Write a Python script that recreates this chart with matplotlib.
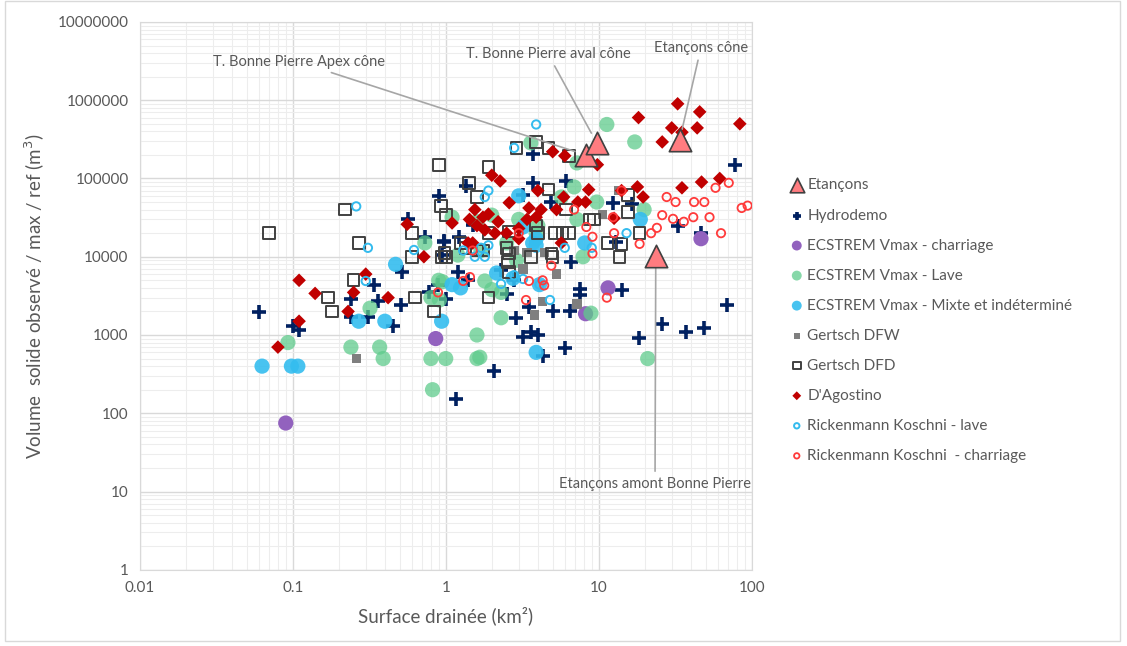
import matplotlib.pyplot as plt
from matplotlib.ticker import FixedLocator, FuncFormatter, LogLocator, NullFormatter

plt.rcParams['font.family'] = ['Lato', 'DejaVu Sans']

# Etançons (triangles)
etancons_x = [8.2, 9.7, 33.8, 23.6]
etancons_y = [200000, 285000, 310000, 10200]

hydro_x = [0.06, 0.1, 0.11, 0.24, 0.24, 0.31, 0.34, 0.36, 0.45, 0.51, 0.52, 0.57, 0.73, 0.78,
           0.89, 0.9, 0.97, 0.98, 0.95, 1.0, 1.17, 1.2, 1.22, 1.35, 1.4, 1.5, 2.07, 2.3, 2.5,
           2.8, 2.9, 3.2, 3.2, 3.5, 3.6, 3.7, 3.7, 4.0, 4.3, 4.9, 5.0, 6.0, 6.1, 6.5, 6.6, 7.5,
           7.6, 12.4, 13.0, 14.2, 16.5, 18.2, 26, 33, 37, 46.6, 49, 68.7, 77.5]
hydro_y = [1950, 1300, 1150, 2900, 1700, 1700, 4400, 2700, 1300, 2400, 6400, 30000, 18000, 3500,
           4400, 60000, 15500, 16000, 10500, 2900, 150, 6400, 18000, 80000, 5000, 25500, 350, 6800, 3300,
           5000, 1660, 62000, 950, 2300, 1100, 206000, 88000, 1000, 540, 50000, 2000, 690, 93000, 2000, 8500, 3200,
           3900, 49000, 15500, 3800, 47000, 920, 1400, 25000, 1100, 20000, 1240, 2430, 150000]

charriage_x = [0.09, 0.86, 8.2, 11.5, 46.6]
charriage_y = [75, 900, 1870, 4000, 17000]

lave_x = [0.093, 0.24, 0.32, 0.37, 0.39, 0.73, 0.8, 0.82, 0.8, 0.9, 0.91, 0.95, 1.0, 1.1, 1.2,
          1.6, 1.67, 1.6, 1.6, 1.7, 1.8, 2.0, 2.0, 2.3, 2.3, 2.5, 2.9, 3.0, 3.6, 3.9, 4.0, 5.7,
          6.9, 7.2, 7.2, 7.9, 8.9, 9.7, 11.3, 17.2, 19.8, 20.9]
lave_y = [800, 700, 2200, 700, 500, 15000, 500, 200, 3000, 5000, 2800, 4800, 500, 32000, 10500,
          1000, 520, 500, 28000, 12000, 4900, 3800, 34000, 1660, 3500, 15000, 9000, 30000, 285000, 20000, 25000, 58000,
          78000, 158000, 30000, 10000, 1900, 50000, 490000, 293000, 40000, 500]

mixte_x = [0.063, 0.098, 0.108, 0.27, 0.4, 0.47, 0.94, 1.1, 1.25, 2.15, 2.75, 3.0, 3.2, 3.7,
           3.9, 3.9, 3.9, 4.1, 8.1, 18.7]
mixte_y = [400, 400, 400, 1500, 1500, 8000, 1500, 4400, 4000, 6200, 5300, 60000, 24000, 15000,
           17000, 14000, 600, 4400, 15000, 30000]

dfw_x = [0.26, 2.8, 3.2, 3.4, 3.8, 4.3, 4.4, 5.3, 7.2, 10.6, 13.5]
dfw_y = [500, 12000, 7000, 11300, 1800, 2700, 11300, 6000, 2500, 35000, 70000]

dfd_x = [0.07, 0.17, 0.18, 0.22, 0.25, 0.27, 0.6, 0.6, 0.63, 0.84, 0.9, 0.93, 1.0, 0.98, 0.94,
         1.0, 1.25, 1.35, 1.42, 1.6, 1.6, 1.75, 1.9, 1.9, 1.9, 2.5, 2.6, 2.55, 2.6, 2.6, 2.9,
         3.6, 3.9, 4.0, 3.9, 4.7, 4.7, 4.9, 5.0, 5.2, 5.8, 6.1, 6.4, 6.4, 8.7, 9.3, 11.4, 13.7,
         14.1, 15.5, 15.5, 18.5]
dfd_y = [20000, 3000, 2000, 40000, 5000, 15000, 20000, 10000, 3000, 2000, 150000, 44700, 34000, 11200, 10000,
         10000, 15000, 13000, 88000, 58000, 12000, 12000, 140000, 20000, 3000, 13000, 11000, 8500, 6400, 21000, 246000,
         10000, 293000, 20000, 25000, 246000, 72000, 11000, 10000, 20000, 20000, 40000, 195000, 20000, 30000, 30000, 15000, 10000,
         14600, 61000, 37000, 20000]

dago_x = [0.08, 0.11, 0.11, 0.14, 0.23, 0.25, 0.3, 0.42, 0.56, 0.72, 1.1, 1.4, 1.5, 1.43, 1.55,
          1.75, 1.6, 1.8, 1.9, 2.0, 2.27, 2.1, 2.2, 2.5, 2.6, 3.0, 3.0, 3.4, 3.5, 3.9, 4.0, 4.2,
          5.0, 5.3, 5.7, 5.9, 6.0, 7.3, 8.2, 8.6, 9.8, 12.6, 14.1, 17.9, 18.2, 19.5, 26, 30,
          32.8, 35, 35, 44, 45.7, 47, 61.8, 83.6]
dago_y = [700, 1500, 5000, 3400, 2000, 3500, 6000, 3000, 26000, 10000, 27000, 15000, 15000, 30000, 40000,
          32000, 25000, 22000, 35000, 110000, 93000, 20000, 28000, 20000, 49000, 17000, 23000, 30000, 42000, 32000, 70000, 40000,
          220000, 40000, 15000, 58000, 195000, 50000, 50000, 72000, 150000, 31000, 70000, 78000, 600000, 58000, 293000, 443000,
          900000, 390000, 76000, 443000, 710000, 90000, 100000, 500000]

rkl_x = [0.26, 0.31, 0.3, 0.62, 1.3, 1.55, 1.7, 1.8, 1.8, 1.9, 1.9, 2.3, 2.8, 2.8, 3.2, 3.9,
         4.1, 4.8, 6.0, 9.0, 15.2]
rkl_y = [44000, 13000, 4900, 12200, 12000, 10000, 13000, 10000, 58000, 70000, 14000, 4500, 246000, 5800, 5200, 490000,
         4400, 2800, 13000, 13000, 20000]

rkc_x = [0.89, 1.3, 1.44, 1.5, 3.0, 3.35, 3.5, 4.3, 4.4, 4.9, 6.9, 8.3, 9.1, 9.1, 11.3, 12.4,
         12.6, 14.1, 18.5, 22, 24, 26, 27.8, 30.6, 31.8, 36, 41.5, 42, 49, 53, 58, 63, 70.8, 86, 94]
rkc_y = [3500, 4900, 5500, 12000, 20000, 2800, 4900, 5000, 4300, 7700, 40000, 24000, 18000, 11000, 3000, 32000,
         20000, 70000, 14600, 20000, 23400, 34000, 58000, 30500, 50000, 28000, 32000, 50000, 50000, 32000, 76000, 20000, 88000, 42000, 45000]

txt = '#595959'
fig = plt.figure(figsize=(11.27, 6.46), dpi=100)
ax = fig.add_axes([0.124, 0.118, 0.543, 0.848])
ax.set_xscale('log')
ax.set_yscale('log')
ax.set_xlim(0.01, 100)
ax.set_ylim(1, 1e7)

ax.scatter(hydro_x, hydro_y, marker='+', s=95, linewidths=2.6, color='#002060', label='Hydrodemo', zorder=3)
ax.scatter(charriage_x, charriage_y, marker='o', s=120, color='#9262BE', edgecolors='none',
           label='ECSTREM Vmax - charriage', zorder=3)
ax.scatter(lave_x, lave_y, marker='o', s=120, color='#5FCB8C', alpha=0.75, edgecolors='none',
           label='ECSTREM Vmax - Lave', zorder=3)
ax.scatter(mixte_x, mixte_y, marker='o', s=120, color='#34BDEF', alpha=0.9, edgecolors='none',
           label='ECSTREM Vmax - Mixte et indéterminé', zorder=3)
ax.scatter(dfw_x, dfw_y, marker='s', s=45, color='#7F7F7F', edgecolors='none', label='Gertsch DFW', zorder=3)
ax.scatter(dfd_x, dfd_y, marker='s', s=70, facecolors='none', edgecolors='#404040', linewidths=1.4,
           label='Gertsch DFD', zorder=3)
ax.scatter(dago_x, dago_y, marker='D', s=48, color='#C00000', edgecolors='none', label="D'Agostino", zorder=3)
ax.scatter(rkl_x, rkl_y, marker='o', s=36, facecolors='none', edgecolors='#33BBEE', linewidths=1.4,
           label='Rickenmann Koschni - lave', zorder=3)
ax.scatter(rkc_x, rkc_y, marker='o', s=36, facecolors='none', edgecolors='#FF3B3B', linewidths=1.3,
           label='Rickenmann Koschni  - charriage', zorder=3)
ax.scatter(etancons_x, etancons_y, marker='^', s=260, color='#FF7C80', edgecolors='#404040', linewidths=1.2,
           label='Etançons', zorder=4)

# grid
ax.grid(True, which='major', color='#D9D9D9', linewidth=1.0, zorder=0)
ax.grid(True, which='minor', color='#EDEDED', linewidth=0.8, zorder=0)
ax.set_axisbelow(True)
ax.xaxis.set_minor_locator(LogLocator(base=10, subs=range(2, 10), numticks=20))
ax.yaxis.set_minor_locator(LogLocator(base=10, subs=range(2, 10), numticks=20))
ax.xaxis.set_minor_formatter(NullFormatter())
ax.yaxis.set_minor_formatter(NullFormatter())
ax.xaxis.set_major_locator(FixedLocator([0.01, 0.1, 1, 10, 100]))
ax.yaxis.set_major_locator(FixedLocator([1, 10, 100, 1000, 1e4, 1e5, 1e6, 1e7]))
ax.xaxis.set_major_formatter(FuncFormatter(lambda v, p: f'{v:g}' if v < 1 else f'{v:.0f}'))
ax.yaxis.set_major_formatter(FuncFormatter(lambda v, p: f'{v:.0f}'))
ax.tick_params(which='both', length=0, colors=txt, labelsize=11, pad=8)
for s in ax.spines.values():
    s.set_color('#D9D9D9')

ax.set_xlabel('Surface drainée (km²)', fontsize=13.5, color=txt, labelpad=8)
ax.set_ylabel('Volume  solide observé / max / ref (m$^3$)', fontsize=13.5, color=txt, labelpad=8)

# annotations
arrow = dict(arrowstyle='-', color='#A6A6A6', lw=1.2, shrinkA=2, shrinkB=8)
ax.annotate('T. Bonne Pierre Apex cône', xy=(etancons_x[0], etancons_y[0]), xytext=(0.40, 0.927),
            textcoords='axes fraction', ha='right', va='center', fontsize=10.5, color=txt, arrowprops=arrow)
ax.annotate('T. Bonne Pierre aval cône', xy=(etancons_x[1], etancons_y[1]), xytext=(0.667, 0.942),
            textcoords='axes fraction', ha='center', va='center', fontsize=10.5, color=txt, arrowprops=arrow)
ax.annotate('Etançons cône', xy=(etancons_x[2], etancons_y[2]), xytext=(0.917, 0.953),
            textcoords='axes fraction', ha='center', va='center', fontsize=10.5, color=txt, arrowprops=arrow)
ax.annotate('Etançons amont Bonne Pierre', xy=(etancons_x[3], etancons_y[3]), xytext=(0.842, 0.157),
            textcoords='axes fraction', ha='center', va='center', fontsize=10.5, color=txt, arrowprops=arrow)

handles, labels = ax.get_legend_handles_labels()
order = [9, 0, 1, 2, 3, 4, 5, 6, 7, 8]
leg = fig.legend([handles[i] for i in order], [labels[i] for i in order], loc='upper left',
                 bbox_to_anchor=(0.688, 0.745), frameon=False, fontsize=11, labelspacing=1.05,
                 handletextpad=0.2, handlelength=1.0, markerscale=0.65)
for t in leg.get_texts():
    t.set_color(txt)

fig.patches.append(plt.Rectangle((0.004, 0.008), 0.99, 0.99, transform=fig.transFigure,
                                 fill=False, edgecolor='#D9D9D9', linewidth=1))

fig.savefig('out.png', dpi=100)
